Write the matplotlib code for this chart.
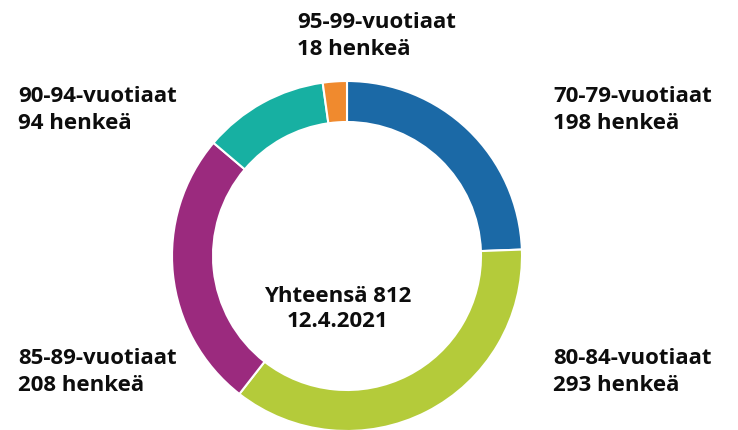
import matplotlib
matplotlib.use("Agg")
import matplotlib.pyplot as plt

categories = ["70-79-vuotiaat", "80-84-vuotiaat", "85-89-vuotiaat", "90-94-vuotiaat", "95-99-vuotiaat"]
values = [198, 293, 208, 94, 18]
colors = ["#1b69a6", "#b4cb3a", "#9b2a7e", "#17b0a2", "#f08a2e"]
center_title = "Yhteensä 812"
center_date = "12.4.2021"

W, H = 738, 431
fig = plt.figure(figsize=(W / 100, H / 100), dpi=100)
ax = fig.add_axes([0, 0, 1, 1])

cx, cy = 347, H - 257
ax.pie(values, colors=colors, radius=175, center=(cx, cy), startangle=90,
       counterclock=False,
       wedgeprops=dict(width=41, edgecolor="white", linewidth=1.5))
ax.set_xlim(0, W)
ax.set_ylim(0, H)
ax.set_aspect("equal")
ax.axis("off")

font = dict(family=["Open Sans", "DejaVu Sans"], fontweight="bold", fontsize=16, color="#0d0d0d")

def label(x, y_px, lines, ha="left", ls=1.38):
    ax.text(x, H - y_px, "\n".join(lines), ha=ha, va="center", linespacing=ls, **font)

label(553, 110, [categories[0], f"{values[0]} henkeä"])
label(553, 372, [categories[1], f"{values[1]} henkeä"])
label(18, 372, [categories[2], f"{values[2]} henkeä"])
label(18, 110, [categories[3], f"{values[3]} henkeä"])
label(297, 36, [categories[4], f"{values[4]} henkeä"])
label(338, 309, [center_title, center_date], ha="center", ls=1.2)

fig.savefig("out.png", dpi=100)
